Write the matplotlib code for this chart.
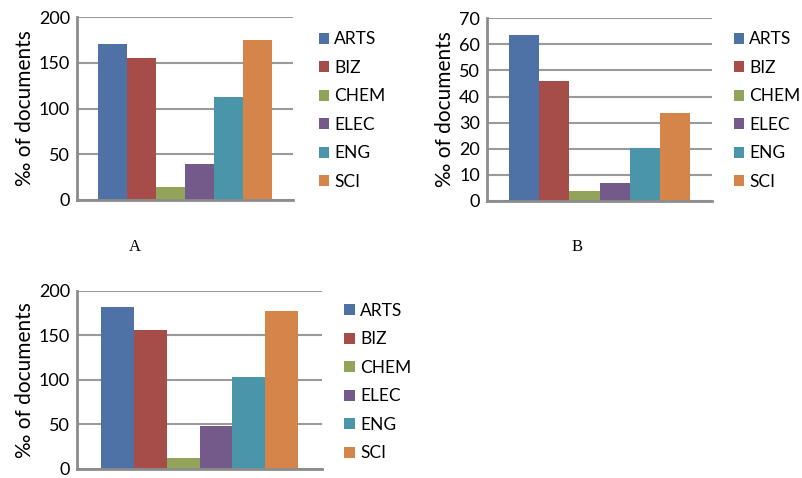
import matplotlib
matplotlib.use("Agg")
from matplotlib import pyplot as plt

categories = ['ARTS', 'BIZ', 'CHEM', 'ELEC', 'ENG', 'SCI']
colors = ['#4F72A6', '#A64D4A', '#91A45A', '#745A8B', '#4B95AA', '#D6854A']

values_a = [170, 155, 14, 39, 113, 175]
values_b = [63.7, 46, 3.8, 6.9, 20.3, 33.8]
values_c = [182, 156, 12, 48, 103, 177]

ticks_a = [0, 50, 100, 150, 200]
ticks_b = [0, 10, 20, 30, 40, 50, 60, 70]
ticks_c = [0, 50, 100, 150, 200]

plt.rcParams['font.family'] = ['Lato', 'DejaVu Sans']


def draw_panel(fig, rect, values, ticks, legend_pos):
    ax = fig.add_axes(rect)
    x = range(len(categories))
    bars = ax.bar(x, values, width=1.0, color=colors, label=categories)

    ax.set_xlim(-0.5 - 0.73, len(categories) - 0.5 + 0.73)
    ax.set_ylim(ticks[0], ticks[-1])
    ax.set_yticks(ticks)
    ax.set_xticks([])
    ax.tick_params(axis='y', length=0, labelsize=13, pad=5)

    # grid like the office chart: gray lines, no top/right frame
    ax.yaxis.grid(True, color='#9A9A9A', linewidth=1.5)
    ax.set_axisbelow(True)
    for side in ['top', 'right']:
        ax.spines[side].set_visible(False)
    for side in ['left', 'bottom']:
        ax.spines[side].set_color('#8C8C8C')
        ax.spines[side].set_linewidth(2)

    ax.set_ylabel('‰ of documents', fontsize=15, labelpad=3)

    fig.legend(bars, categories, loc='upper left', bbox_to_anchor=legend_pos,
               frameon=False, fontsize=12.5, handlelength=0.6, handleheight=0.6,
               handletextpad=0.3, labelspacing=0.72, borderpad=0)
    return ax


fig = plt.figure(figsize=(8.03, 4.78), dpi=100)

draw_panel(fig, [0.0959, 0.5816, 0.2690, 0.3828], values_a, ticks_a, (0.386, 0.953))
draw_panel(fig, [0.6065, 0.5800, 0.2802, 0.3817], values_b, ticks_b, (0.903, 0.953))
draw_panel(fig, [0.0959, 0.0195, 0.3051, 0.3720], values_c, ticks_c, (0.418, 0.385))

fig.text(135 / 803, 1 - 247 / 478, 'A', ha='center', va='center',
         fontsize=12, family='Liberation Serif')
fig.text(577 / 803, 1 - 247 / 478, 'B', ha='center', va='center',
         fontsize=12, family='Liberation Serif')

fig.savefig('out.png', dpi=100)
plt.close(fig)
